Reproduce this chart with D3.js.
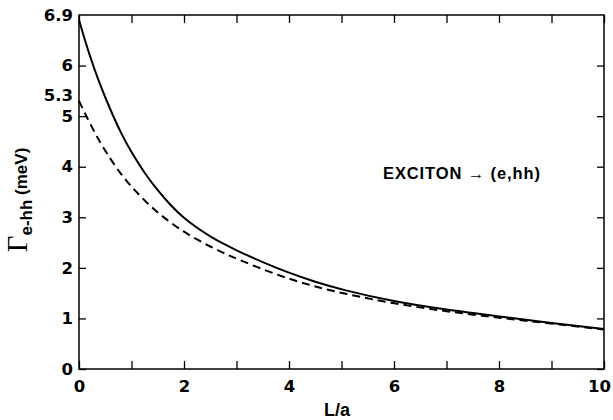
<!DOCTYPE html>
<html>
<head>
<meta charset="utf-8">
<script src="https://cdn.jsdelivr.net/npm/d3@7"></script>
<style>
  html, body { margin: 0; padding: 0; background: #fff; }
  svg { display: block; }
  .tick text { font-family: "DejaVu Sans", "Liberation Sans", Arial, sans-serif; font-weight: bold; font-size: 16.5px; fill: #000; }
</style>
</head>
<body>
<svg id="chart" width="613" height="420"></svg>
<script>
// ---- data ----
const xValues = [0, 0.2, 0.4, 0.6, 0.8, 1.0, 1.25, 1.5, 1.75, 2, 2.25, 2.5, 2.75, 3, 3.5, 4, 4.5, 5, 6, 7, 8, 9, 10];
const solidValues = [6.9, 6.2, 5.62, 5.12, 4.66, 4.28, 3.87, 3.53, 3.23, 2.98, 2.79, 2.62, 2.475, 2.345, 2.11, 1.90, 1.72, 1.57, 1.33, 1.17, 1.04, 0.91, 0.79];
const dashedValues = [5.3, 4.87, 4.48, 4.15, 3.85, 3.6, 3.33, 3.09, 2.89, 2.71, 2.56, 2.42, 2.295, 2.18, 1.97, 1.78, 1.63, 1.50, 1.29, 1.14, 1.01, 0.90, 0.78];
const xTicks = [0, 1, 2, 3, 4, 5, 6, 7, 8, 9, 10];
const xTickLabels = ["0", "", "2", "", "4", "", "6", "", "8", "", "10"];
const yTicks = [0, 1, 2, 3, 4, 5, 6];
const yExtraLabels = [5.3, 6.9];
const xTitle = "L/a";
const annotation = "EXCITON \u2192 (e,hh)";

// ---- layout ----
const svg = d3.select("#chart");
const mLeft = 79, mRight = 604, mTop = 15, mBottom = 369;
const x = d3.scaleLinear().domain([0, 10]).range([mLeft, mRight]);
const y = d3.scaleLinear().domain([0, 7]).range([mBottom, mTop]);

// frame
svg.append("rect")
  .attr("x", mLeft).attr("y", mTop)
  .attr("width", mRight - mLeft).attr("height", mBottom - mTop)
  .attr("fill", "none").attr("stroke", "#000").attr("stroke-width", 1.5);

// bottom axis
const gx = svg.append("g").attr("transform", `translate(0,${mBottom})`)
  .call(d3.axisBottom(x).tickValues(xTicks).tickSize(-8).tickPadding(11)
    .tickFormat((d, i) => xTickLabels[i]));
gx.selectAll(".tick text").attr("dx", (d) => d === 10 ? -5 : 0);
// top axis
const gxt = svg.append("g").attr("transform", `translate(0,${mTop})`)
  .call(d3.axisTop(x).tickValues(xTicks).tickSize(-8).tickFormat(""));
// left axis
const gy = svg.append("g").attr("transform", `translate(${mLeft},0)`)
  .call(d3.axisLeft(y).tickValues(yTicks).tickSize(-7).tickPadding(6).tickFormat(d3.format("d")));
// extra labels
const gy2 = svg.append("g").attr("transform", `translate(${mLeft},0)`)
  .call(d3.axisLeft(y).tickValues(yExtraLabels).tickSize(0).tickPadding(6).tickFormat(d3.format(".1f")));
gy2.selectAll(".tick text").attr("dy", "0.18em").attr("y", -3);
// right axis
const gyr = svg.append("g").attr("transform", `translate(${mRight},0)`)
  .call(d3.axisRight(y).tickValues(yTicks).tickSize(-7).tickFormat(""));

[gx, gxt, gy, gy2, gyr].forEach(g => {
  g.select(".domain").remove();
  g.selectAll(".tick line").attr("stroke", "#000").attr("stroke-width", 1.3);
});

// curves
const pts = (vals) => xValues.map((xv, i) => [xv, vals[i]]);
const line = d3.line().x(d => x(d[0])).y(d => y(d[1])).curve(d3.curveBasis);
svg.append("path").datum(pts(solidValues))
  .attr("d", line).attr("fill", "none").attr("stroke", "#000").attr("stroke-width", 2);
svg.append("path").datum(pts(dashedValues))
  .attr("d", line).attr("fill", "none").attr("stroke", "#000").attr("stroke-width", 2)
  .attr("stroke-dasharray", "8,5");

// annotation
svg.append("text")
  .attr("x", 383).attr("y", 179)
  .attr("font-family", "Liberation Sans, Arial, sans-serif")
  .attr("font-weight", "bold").attr("font-size", 16.5)
  .attr("textLength", 157).attr("lengthAdjust", "spacing")
  .text(annotation);

// x title
svg.append("text")
  .attr("x", 337).attr("y", 416)
  .attr("text-anchor", "middle")
  .attr("font-family", "Liberation Sans, Arial, sans-serif")
  .attr("font-weight", "bold").attr("font-size", 18)
  .text(xTitle);

// y title
const yt = svg.append("text")
  .attr("transform", "translate(27,200) rotate(-90)")
  .attr("text-anchor", "middle")
  .attr("font-family", "Liberation Sans, Arial, sans-serif")
  .attr("font-weight", "bold").attr("font-size", 17);
yt.append("tspan").attr("font-family", "Liberation Serif, Times New Roman, serif")
  .attr("font-weight", "normal").attr("font-size", 29).text("\u0393");
yt.append("tspan").attr("dy", 5).attr("font-size", 17).text("e-hh");
yt.append("tspan").attr("dy", -5).attr("font-size", 17).text(" (meV)");
</script>
</body>
</html>
